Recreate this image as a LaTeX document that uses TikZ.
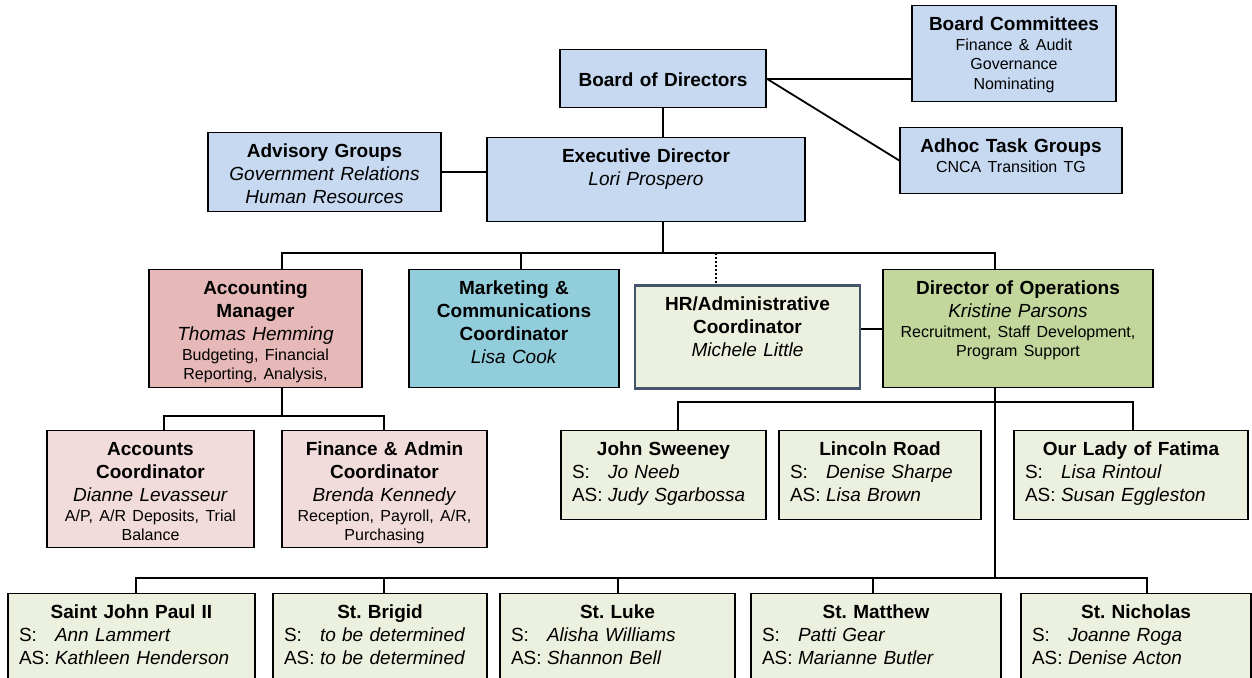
\documentclass[tikz,border=0pt]{standalone}
\usepackage{fontspec}
\setmainfont{Liberation Sans}
\usepackage{tikz}
\frenchspacing

\definecolor{boardblue}{HTML}{C6D9F1}
\definecolor{acctred}{HTML}{E6B9B8}
\definecolor{acctpink}{HTML}{F2DCDB}
\definecolor{mktaqua}{HTML}{92CDDC}
\definecolor{opsgreen}{HTML}{C3D69B}
\definecolor{sitegreen}{HTML}{EBF1DE}
\definecolor{hrline}{HTML}{44546A}

\newcommand{\bigtxt}{\fontsize{19}{23}\selectfont}
\newcommand{\smalltxt}{\fontsize{16}{19.5}\selectfont}
\newcommand{\staffline}[2]{\makebox[\linewidth][l]{\makebox[36pt][l]{#1}\textit{#2}}}

\begin{document}
\begin{tikzpicture}[x=1pt,y=-1pt,
    unit box/.style={draw=black,line width=1.2pt,anchor=north,align=center,inner xsep=6pt,inner ysep=0pt,text height=25pt,font=\bigtxt},
    staff box/.style={unit box,fill=sitegreen,inner xsep=11pt},
    conn/.style={line width=1.8pt}]
        \useasboundingbox (0,0) rectangle (1252,677);
        \clip (0,0) rectangle (1252,677);
        		%nodes
        			  \node[unit box,fill=boardblue,text width=192pt,text depth=71pt] (bc) at (1014,5) {\textbf{Board Committees}\\\smalltxt Finance \& Audit\\Governance\\Nominating\par};
        			  \node[unit box,fill=boardblue,text width=194pt,text height=37pt,text depth=21pt] (bod) at (663,49) {\textbf{Board of Directors}};
        			  \node[unit box,fill=boardblue,text width=210pt,text depth=41pt] (adhoc) at (1011,127) {\textbf{Adhoc Task Groups}\\\smalltxt CNCA Transition TG\par};
        			  \node[unit box,fill=boardblue,text width=221pt,text depth=54pt] (adv) at (324.5,132) {\textbf{Advisory Groups}\\\textit{Government Relations}\\\textit{Human Resources}};
        			  \node[unit box,fill=boardblue,text width=306pt,text depth=59pt] (exec) at (646,137) {\textbf{Executive Director}\\\textit{Lori Prospero}};
        			  \node[unit box,fill=acctred,text width=201pt,text depth=93pt] (acct) at (255.5,269) {\textbf{Accounting}\\\textbf{Manager}\\\textit{Thomas Hemming}\\\smalltxt Budgeting, Financial\\Reporting, Analysis,\par};
        			  \node[unit box,fill=mktaqua,text width=198pt,text depth=93pt] (mkt) at (514,269) {\textbf{Marketing \&}\\\textbf{Communications}\\\textbf{Coordinator}\\\textit{Lisa Cook}};
        			  \node[unit box,fill=sitegreen,draw=hrline,line width=2.5pt,text width=213pt,text depth=78pt] (hr) at (747.5,284) {\textbf{HR/Administrative}\\\textbf{Coordinator}\\\textit{Michele Little}};
        			  \node[unit box,fill=opsgreen,text width=258pt,text depth=93pt] (ops) at (1018,269) {\textbf{Director of Operations}\\\textit{Kristine Parsons}\\\smalltxt Recruitment, Staff Development,\\Program Support\par};
        			  \node[unit box,fill=acctpink,text width=195pt,text depth=92pt] (acc) at (150.5,430) {\textbf{Accounts}\\\textbf{Coordinator}\\\textit{Dianne Levasseur}\\\smalltxt A/P, A/R Deposits, Trial\\Balance\par};
        			  \node[unit box,fill=acctpink,text width=193pt,text depth=92pt] (fin) at (384.5,430) {\textbf{Finance \& Admin}\\\textbf{Coordinator}\\\textit{Brenda Kennedy}\\\smalltxt Reception, Payroll, A/R,\\Purchasing\par};
        			  \node[staff box,text width=183pt,text depth=64pt] (js) at (663.5,430) {\textbf{John Sweeney}\\\staffline{S:}{Jo Neeb}\\\staffline{AS:}{Judy Sgarbossa}};
        			  \node[staff box,text width=180pt,text depth=64pt] (lr) at (880,430) {\textbf{Lincoln Road}\\\staffline{S:}{Denise Sharpe}\\\staffline{AS:}{Lisa Brown}};
        			  \node[staff box,text width=212pt,text depth=64pt] (olf) at (1131,430) {\textbf{Our Lady of Fatima}\\\staffline{S:}{Lisa Rintoul}\\\staffline{AS:}{Susan Eggleston}};
        			  \node[staff box,text width=225pt,text depth=80pt] (sjp) at (131.5,593) {\textbf{Saint John Paul II}\\\staffline{S:}{Ann Lammert}\\\staffline{AS:}{Kathleen Henderson}};
        			  \node[staff box,text width=192pt,text depth=80pt] (sb) at (380,593) {\textbf{St. Brigid}\\\staffline{S:}{to be determined}\\\staffline{AS:}{to be determined}};
        			  \node[staff box,text width=213pt,text depth=80pt] (sl) at (617.5,593) {\textbf{St. Luke}\\\staffline{S:}{Alisha Williams}\\\staffline{AS:}{Shannon Bell}};
        			  \node[staff box,text width=228pt,text depth=80pt] (sm) at (876,593) {\textbf{St. Matthew}\\\staffline{S:}{Patti Gear}\\\staffline{AS:}{Marianne Butler}};
        			  \node[staff box,text width=208pt,text depth=80pt] (sn) at (1136,593) {\textbf{St. Nicholas}\\\staffline{S:}{Joanne Roga}\\\staffline{AS:}{Denise Acton}};
        		%bus points
        			  \coordinate (exec-bus) at (663,253);
        			  \coordinate (acct-drop) at (282,253);
        			  \coordinate (mkt-drop) at (521,253);
        			  \coordinate (hr-drop) at (716,253);
        			  \coordinate (ops-drop) at (995,253);
        			  \coordinate (acct-split) at (282,416);
        			  \coordinate (acc-drop) at (164,416);
        			  \coordinate (fin-drop) at (384,416);
        			  \coordinate (js-drop) at (678,402);
        			  \coordinate (olf-drop) at (1133,402);
        			  \coordinate (ops-spine) at (995,578);
        			  \coordinate (sjp-drop) at (136,578);
        			  \coordinate (sb-drop) at (384,578);
        			  \coordinate (sl-drop) at (618,578);
        			  \coordinate (sm-drop) at (873,578);
        			  \coordinate (sn-drop) at (1147,578);
        		%Edges
        			  \draw[conn] (bod.south) -- (bod.south |- exec.north);
        			  \draw[conn] (bod.east) -- (bod.east -| bc.west);
        			  \draw[conn] (bod.east) -- (adhoc.west);
        			  \draw[conn] (adv.east) -- (adv.east -| exec.west);
        			  \draw[conn] (exec.south -| exec-bus) -- (exec-bus);
        			  \draw[conn] (acct-drop |- acct.north) -- (acct-drop) -- (ops-drop) -- (ops-drop |- ops.north);
        			  \draw[conn] (mkt-drop) -- (mkt-drop |- mkt.north);
        			  \draw[conn,dash pattern=on 2pt off 2pt] (hr-drop) -- (hr-drop |- hr.north);
        			  \draw[conn] (ops.west) -- (ops.west -| hr.east);
        			  \draw[conn] (acct.south -| acct-split) -- (acct-split);
        			  \draw[conn] (acc-drop |- acc.north) -- (acc-drop) -- (fin-drop) -- (fin-drop |- fin.north);
        			  \draw[conn] (ops.south -| ops-spine) -- (ops-spine);
        			  \draw[conn] (js-drop |- js.north) -- (js-drop) -- (olf-drop) -- (olf-drop |- olf.north);
        			  \draw[conn] (sjp-drop |- sjp.north) -- (sjp-drop) -- (sn-drop) -- (sn-drop |- sn.north);
        			  \foreach \s in {sb,sl,sm}
        			    \draw[conn] (\s-drop) -- (\s-drop |- \s.north);
        \end{tikzpicture}
\end{document}
